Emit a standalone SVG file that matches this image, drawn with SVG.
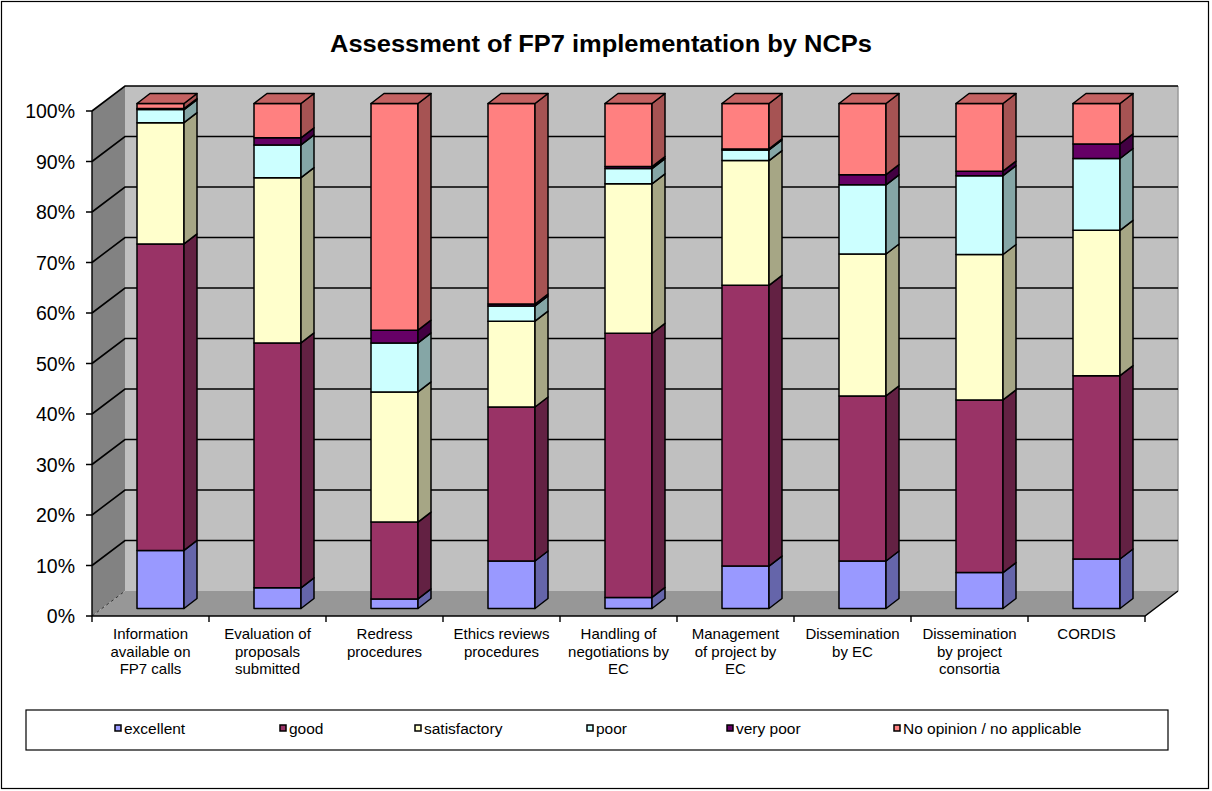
<svg xmlns="http://www.w3.org/2000/svg" width="1212" height="791" viewBox="0 0 1212 791">
<style>
text{font-family:"Liberation Sans",Arial,sans-serif;fill:#000}
.title{font-size:23px;font-weight:bold}
.yl{font-size:19.5px;text-anchor:end}
.cl{font-size:15px;text-anchor:middle}
.lg{font-size:15.5px}
.grid{stroke:#000;stroke-width:1.6;fill:none}
.ax{stroke:#000;stroke-width:1.4;fill:none}
.bars rect,.bars polygon{stroke:#000;stroke-width:1.5;stroke-linejoin:round}
.e rect{fill:#9999FF}.e polygon{fill:#6565AA}
.g rect{fill:#993366}.g polygon{fill:#632143}
.s rect{fill:#FFFFCC}.s polygon{fill:#A6A685}
.p rect{fill:#CCFFFF}.p polygon{fill:#85A6A6}
.v rect{fill:#660066}.v polygon{fill:#420042}
.n rect{fill:#FF8080}.n polygon{fill:#A65353}.n polygon.t{fill:#C46262}
.mk{stroke:#000;stroke-width:1.5}
</style>
<rect x="0" y="0" width="1212" height="791" fill="#fff"/>
<rect x="1.5" y="1.5" width="1207" height="787" fill="none" stroke="#000" stroke-width="1.2"/>
<text class="title" x="601" y="52" text-anchor="middle" textLength="542" lengthAdjust="spacingAndGlyphs">Assessment of FP7 implementation by NCPs</text>

<g id="plot-area">
<rect x="125" y="86" width="1053" height="505" fill="#C0C0C0"/>
<polygon points="92,111 125,86 125,591 92,616" fill="#828282"/>
<polygon points="92,616 1145,616 1178,591 125,591" fill="#979797"/>
<line x1="1178" y1="86" x2="1178" y2="591" stroke="#9a9a9a" stroke-width="1.5"/>
<line x1="92" y1="616" x2="125" y2="591" stroke="#333" stroke-width="1" stroke-dasharray="3,3"/>
</g>

<g id="gridlines" class="grid">
<path d="M92 565.5L125 540.5H1178M92 515L125 490H1178M92 464.5L125 439.5H1178M92 414L125 389H1178M92 363.5L125 338.5H1178M92 313L125 288H1178M92 262.5L125 237.5H1178M92 212L125 187H1178M92 161.5L125 136.5H1178M92 111L125 86H1178"/>
</g>

<g id="axes" class="ax">
<path d="M92 111V616H1145L1178 591"/>
<path d="M86 616H92M86 565.5H92M86 515H92M86 464.5H92M86 414H92M86 363.5H92M86 313H92M86 262.5H92M86 212H92M86 161.5H92M86 111H92"/>
<path d="M92 616V622M209 616V622M326 616V622M443 616V622M560 616V622M677 616V622M794 616V622M911 616V622M1028 616V622M1145 616V622"/>
</g>

<g id="y-labels">
<text class="yl" x="75" y="623">0%</text>
<text class="yl" x="75" y="572.5">10%</text>
<text class="yl" x="75" y="522">20%</text>
<text class="yl" x="75" y="471.5">30%</text>
<text class="yl" x="75" y="421">40%</text>
<text class="yl" x="75" y="370.5">50%</text>
<text class="yl" x="75" y="320">60%</text>
<text class="yl" x="75" y="269.5">70%</text>
<text class="yl" x="75" y="219">80%</text>
<text class="yl" x="75" y="168.5">90%</text>
<text class="yl" x="75" y="118">100%</text>
</g>

<g class="bars">
<g id="bar-information">
<g class="e"><rect x="137" y="550.4" width="47" height="58.1"/><polygon points="184,608.5 197,598.5 197,540.4 184,550.4"/></g>
<g class="g"><rect x="137" y="243.9" width="47" height="306.5"/><polygon points="184,550.4 197,540.4 197,233.9 184,243.9"/></g>
<g class="s"><rect x="137" y="122.7" width="47" height="121.2"/><polygon points="184,243.9 197,233.9 197,112.7 184,122.7"/></g>
<g class="p"><rect x="137" y="109.6" width="47" height="13.1"/><polygon points="184,122.7 197,112.7 197,99.6 184,109.6"/></g>
<g class="v"><rect x="137" y="108.5" width="47" height="1.1"/><polygon points="184,109.6 197,99.6 197,98.5 184,108.5"/></g>
<g class="n"><rect x="137" y="103.5" width="47" height="5"/><polygon points="184,108.5 197,98.5 197,93.5 184,103.5"/><polygon class="t" points="137,103.5 150,93.5 197,93.5 184,103.5"/></g>
</g>
<g id="bar-evaluation">
<g class="e"><rect x="254" y="587.8" width="47" height="20.7"/><polygon points="301,608.5 314,598.5 314,577.8 301,587.8"/></g>
<g class="g"><rect x="254" y="342.9" width="47" height="244.9"/><polygon points="301,587.8 314,577.8 314,332.9 301,342.9"/></g>
<g class="s"><rect x="254" y="177.7" width="47" height="165.2"/><polygon points="301,342.9 314,332.9 314,167.7 301,177.7"/></g>
<g class="p"><rect x="254" y="144.9" width="47" height="32.8"/><polygon points="301,177.7 314,167.7 314,134.9 301,144.9"/></g>
<g class="v"><rect x="254" y="137.8" width="47" height="7.1"/><polygon points="301,144.9 314,134.9 314,127.8 301,137.8"/></g>
<g class="n"><rect x="254" y="103.5" width="47" height="34.3"/><polygon points="301,137.8 314,127.8 314,93.5 301,103.5"/><polygon class="t" points="254,103.5 267,93.5 314,93.5 301,103.5"/></g>
</g>
<g id="bar-redress">
<g class="e"><rect x="371" y="598.9" width="47" height="9.6"/><polygon points="418,608.5 431,598.5 431,588.9 418,598.9"/></g>
<g class="g"><rect x="371" y="522.1" width="47" height="76.8"/><polygon points="418,598.9 431,588.9 431,512.1 418,522.1"/></g>
<g class="s"><rect x="371" y="391.9" width="47" height="130.2"/><polygon points="418,522.1 431,512.1 431,381.9 418,391.9"/></g>
<g class="p"><rect x="371" y="342.9" width="47" height="49"/><polygon points="418,391.9 431,381.9 431,332.9 418,342.9"/></g>
<g class="v"><rect x="371" y="330.2" width="47" height="12.7"/><polygon points="418,342.9 431,332.9 431,320.2 418,330.2"/></g>
<g class="n"><rect x="371" y="103.5" width="47" height="226.7"/><polygon points="418,330.2 431,320.2 431,93.5 418,103.5"/><polygon class="t" points="371,103.5 384,93.5 431,93.5 418,103.5"/></g>
</g>
<g id="bar-ethics">
<g class="e"><rect x="488" y="561" width="47" height="47.5"/><polygon points="535,608.5 548,598.5 548,551 535,561"/></g>
<g class="g"><rect x="488" y="407" width="47" height="154"/><polygon points="535,561 548,551 548,397 535,407"/></g>
<g class="s"><rect x="488" y="321.2" width="47" height="85.8"/><polygon points="535,407 548,397 548,311.2 535,321.2"/></g>
<g class="p"><rect x="488" y="306" width="47" height="15.2"/><polygon points="535,321.2 548,311.2 548,296 535,306"/></g>
<g class="v"><rect x="488" y="304" width="47" height="2"/><polygon points="535,306 548,296 548,294 535,304"/></g>
<g class="n"><rect x="488" y="103.5" width="47" height="200.5"/><polygon points="535,304 548,294 548,93.5 535,103.5"/><polygon class="t" points="488,103.5 501,93.5 548,93.5 535,103.5"/></g>
</g>
<g id="bar-handling">
<g class="e"><rect x="605" y="597.4" width="47" height="11.1"/><polygon points="652,608.5 665,598.5 665,587.4 652,597.4"/></g>
<g class="g"><rect x="605" y="333.3" width="47" height="264.1"/><polygon points="652,597.4 665,587.4 665,323.3 652,333.3"/></g>
<g class="s"><rect x="605" y="183.8" width="47" height="149.5"/><polygon points="652,333.3 665,323.3 665,173.8 652,183.8"/></g>
<g class="p"><rect x="605" y="168.6" width="47" height="15.2"/><polygon points="652,183.8 665,173.8 665,158.6 652,168.6"/></g>
<g class="v"><rect x="605" y="166.6" width="47" height="2"/><polygon points="652,168.6 665,158.6 665,156.6 652,166.6"/></g>
<g class="n"><rect x="605" y="103.5" width="47" height="63.1"/><polygon points="652,166.6 665,156.6 665,93.5 652,103.5"/><polygon class="t" points="605,103.5 618,93.5 665,93.5 652,103.5"/></g>
</g>
<g id="bar-management">
<g class="e"><rect x="722" y="566.1" width="47" height="42.4"/><polygon points="769,608.5 782,598.5 782,556.1 769,566.1"/></g>
<g class="g"><rect x="722" y="285.3" width="47" height="280.8"/><polygon points="769,566.1 782,556.1 782,275.3 769,285.3"/></g>
<g class="s"><rect x="722" y="160.6" width="47" height="124.7"/><polygon points="769,285.3 782,275.3 782,150.6 769,160.6"/></g>
<g class="p"><rect x="722" y="150" width="47" height="10.6"/><polygon points="769,160.6 782,150.6 782,140 769,150"/></g>
<g class="v"><rect x="722" y="148.9" width="47" height="1.1"/><polygon points="769,150 782,140 782,138.9 769,148.9"/></g>
<g class="n"><rect x="722" y="103.5" width="47" height="45.4"/><polygon points="769,148.9 782,138.9 782,93.5 769,103.5"/><polygon class="t" points="722,103.5 735,93.5 782,93.5 769,103.5"/></g>
</g>
<g id="bar-dissemination-ec">
<g class="e"><rect x="839" y="561" width="47" height="47.5"/><polygon points="886,608.5 899,598.5 899,551 886,561"/></g>
<g class="g"><rect x="839" y="395.9" width="47" height="165.1"/><polygon points="886,561 899,551 899,385.9 886,395.9"/></g>
<g class="s"><rect x="839" y="254" width="47" height="141.9"/><polygon points="886,395.9 899,385.9 899,244 886,254"/></g>
<g class="p"><rect x="839" y="184.8" width="47" height="69.2"/><polygon points="886,254 899,244 899,174.8 886,184.8"/></g>
<g class="v"><rect x="839" y="174.7" width="47" height="10.1"/><polygon points="886,184.8 899,174.8 899,164.7 886,174.7"/></g>
<g class="n"><rect x="839" y="103.5" width="47" height="71.2"/><polygon points="886,174.7 899,164.7 899,93.5 886,103.5"/><polygon class="t" points="839,103.5 852,93.5 899,93.5 886,103.5"/></g>
</g>
<g id="bar-dissemination-consortia">
<g class="e"><rect x="956" y="572.6" width="47" height="35.9"/><polygon points="1003,608.5 1016,598.5 1016,562.6 1003,572.6"/></g>
<g class="g"><rect x="956" y="399.9" width="47" height="172.7"/><polygon points="1003,572.6 1016,562.6 1016,389.9 1003,399.9"/></g>
<g class="s"><rect x="956" y="254.5" width="47" height="145.4"/><polygon points="1003,399.9 1016,389.9 1016,244.5 1003,254.5"/></g>
<g class="p"><rect x="956" y="175.7" width="47" height="78.8"/><polygon points="1003,254.5 1016,244.5 1016,165.7 1003,175.7"/></g>
<g class="v"><rect x="956" y="171.2" width="47" height="4.5"/><polygon points="1003,175.7 1016,165.7 1016,161.2 1003,171.2"/></g>
<g class="n"><rect x="956" y="103.5" width="47" height="67.7"/><polygon points="1003,171.2 1016,161.2 1016,93.5 1003,103.5"/><polygon class="t" points="956,103.5 969,93.5 1016,93.5 1003,103.5"/></g>
</g>
<g id="bar-cordis">
<g class="e"><rect x="1073" y="559" width="47" height="49.5"/><polygon points="1120,608.5 1133,598.5 1133,549 1120,559"/></g>
<g class="g"><rect x="1073" y="375.7" width="47" height="183.3"/><polygon points="1120,559 1133,549 1133,365.7 1120,375.7"/></g>
<g class="s"><rect x="1073" y="230.3" width="47" height="145.4"/><polygon points="1120,375.7 1133,365.7 1133,220.3 1120,230.3"/></g>
<g class="p"><rect x="1073" y="158.5" width="47" height="71.8"/><polygon points="1120,230.3 1133,220.3 1133,148.5 1120,158.5"/></g>
<g class="v"><rect x="1073" y="143.9" width="47" height="14.6"/><polygon points="1120,158.5 1133,148.5 1133,133.9 1120,143.9"/></g>
<g class="n"><rect x="1073" y="103.5" width="47" height="40.4"/><polygon points="1120,143.9 1133,133.9 1133,93.5 1120,103.5"/><polygon class="t" points="1073,103.5 1086,93.5 1133,93.5 1120,103.5"/></g>
</g>
</g>

<g id="category-labels">
<text class="cl" x="150.5" y="639">Information</text>
<text class="cl" x="150.5" y="656.5">available on</text>
<text class="cl" x="150.5" y="674">FP7 calls</text>
<text class="cl" x="267.5" y="639">Evaluation of</text>
<text class="cl" x="267.5" y="656.5">proposals</text>
<text class="cl" x="267.5" y="674">submitted</text>
<text class="cl" x="384.5" y="639">Redress</text>
<text class="cl" x="384.5" y="656.5">procedures</text>
<text class="cl" x="501.5" y="639">Ethics reviews</text>
<text class="cl" x="501.5" y="656.5">procedures</text>
<text class="cl" x="618.5" y="639">Handling of</text>
<text class="cl" x="618.5" y="656.5">negotiations by</text>
<text class="cl" x="618.5" y="674">EC</text>
<text class="cl" x="735.5" y="639">Management</text>
<text class="cl" x="735.5" y="656.5">of project by</text>
<text class="cl" x="735.5" y="674">EC</text>
<text class="cl" x="852.5" y="639">Dissemination</text>
<text class="cl" x="852.5" y="656.5">by EC</text>
<text class="cl" x="969.5" y="639">Dissemination</text>
<text class="cl" x="969.5" y="656.5">by project</text>
<text class="cl" x="969.5" y="674">consortia</text>
<text class="cl" x="1086.5" y="639">CORDIS</text>
</g>

<g id="legend">
<rect x="26" y="710" width="1142" height="40" fill="#fff" stroke="#000" stroke-width="1.2"/>
<rect class="mk" x="115" y="725" width="6" height="6" fill="#9999FF"/>
<text class="lg" x="124" y="734">excellent</text>
<rect class="mk" x="280" y="725" width="6" height="6" fill="#993366"/>
<text class="lg" x="289" y="734">good</text>
<rect class="mk" x="415" y="725" width="6" height="6" fill="#FFFFCC"/>
<text class="lg" x="424" y="734">satisfactory</text>
<rect class="mk" x="587" y="725" width="6" height="6" fill="#CCFFFF"/>
<text class="lg" x="596" y="734">poor</text>
<rect class="mk" x="727" y="725" width="6" height="6" fill="#660066"/>
<text class="lg" x="736" y="734">very poor</text>
<rect class="mk" x="894" y="725" width="6" height="6" fill="#FF8080"/>
<text class="lg" x="903" y="734">No opinion / no applicable</text>
</g>
</svg>
